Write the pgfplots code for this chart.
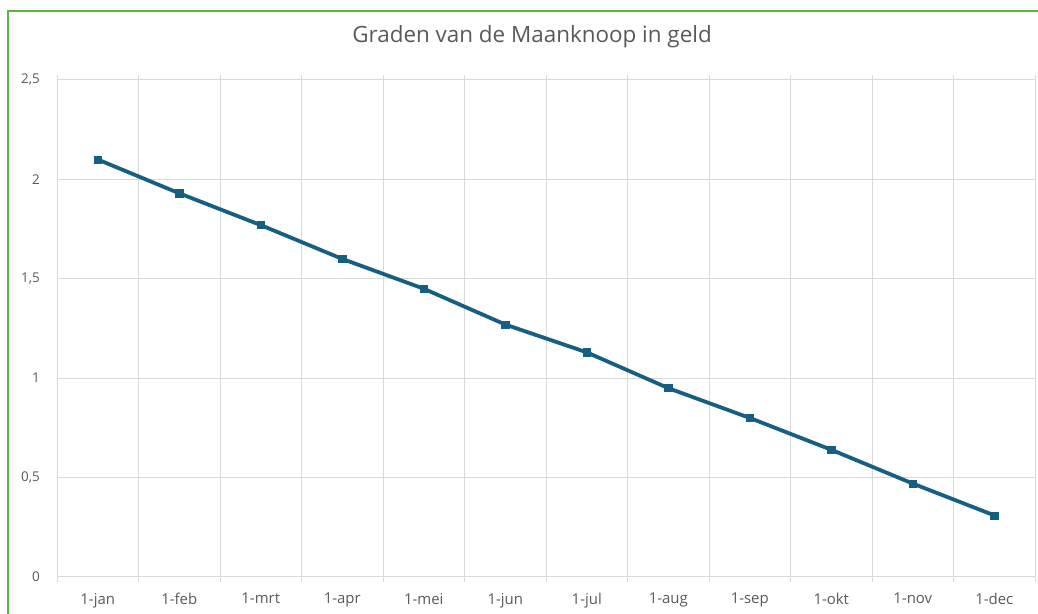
\documentclass[border=0pt]{standalone}
\usepackage{pgfplots}
\pgfplotsset{compat=1.18}
\usepackage{fontspec}
\setmainfont{Open Sans}
\definecolor{seriesblue}{RGB}{21,96,130}
\definecolor{framegreen}{RGB}{92,182,64}
\definecolor{labelgray}{RGB}{89,89,89}
\definecolor{gridgray}{RGB}{217,217,217}

\pgfplotstableread{
idx value
0  2.10
1  1.93
2  1.77
3  1.60
4  1.45
5  1.27
6  1.13
7  0.95
8  0.80
9  0.64
10 0.47
11 0.31
}\maanknoop

\begin{document}
\begin{tikzpicture}[x=1bp,y=1bp]
\path[use as bounding box] (0,0) rectangle (1038,614);
\draw[framegreen, line width=1.8bp] (8,-2) -- (8,603) -- (1040,603);
\begin{axis}[
  at={(57bp,37bp)}, anchor=south west,
  scale only axis, width=978bp, height=497bp,
  xmin=-0.5, xmax=11.5, ymin=0, ymax=2.5,
  xtick={0,...,11},
  xticklabels={1-jan,1-feb,1-mrt,1-apr,1-mei,1-jun,1-jul,1-aug,1-sep,1-okt,1-nov,1-dec},
  minor xtick={-0.5,0.5,...,11.5},
  ytick={0,0.5,1,1.5,2,2.5},
  yticklabels={0,{0,5},1,{1,5},2,{2,5}},
  xminorgrids, ymajorgrids,
  grid style={gridgray, line width=1bp},
  minor grid style={gridgray, line width=1bp},
  major tick length=0pt, minor tick length=5bp,
  tick align=outside,
  minor tick style={gridgray, line width=1bp},
  axis line style={draw=none},
  tick label style={text=labelgray},
  yticklabel style={anchor=east, inner sep=0pt, xshift=-17bp,
    font=\fontsize{13.5}{16}\selectfont},
  xticklabel style={anchor=north, inner sep=0pt, yshift=-16bp,
    font=\fontsize{15}{18}\selectfont},
  title={Graden van de Maanknoop in geld},
  title style={at={(0.4857,1)}, anchor=center, yshift=37bp, inner sep=0pt,
    font=\fontsize{22.5}{26}\selectfont, text=labelgray},
  clip=false,
]
\addplot[seriesblue, line width=3.8bp, mark=square*, mark size=3.6bp,
  mark options={solid, fill=seriesblue, line width=0.5bp}]
  table[x=idx, y=value] {\maanknoop};
\end{axis}
\end{tikzpicture}
\end{document}
